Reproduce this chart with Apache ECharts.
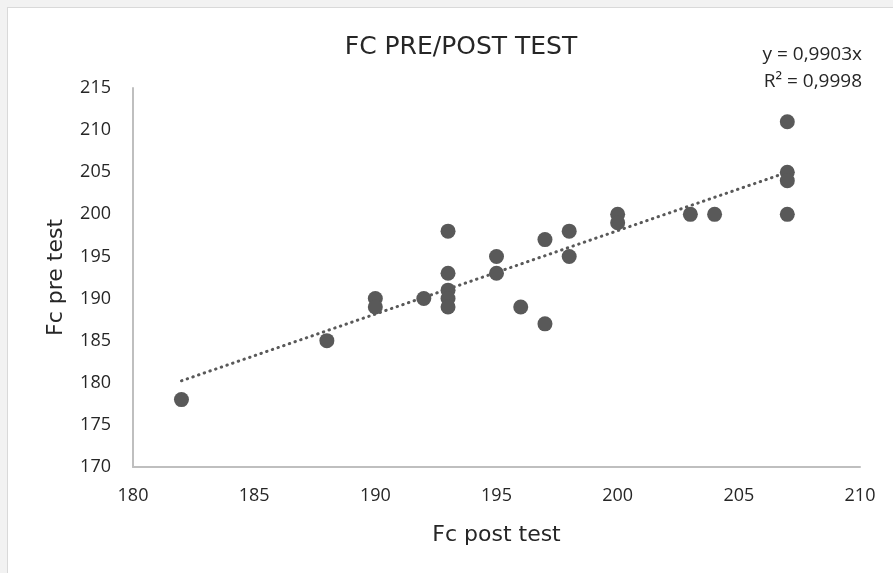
<!DOCTYPE html>
<html>
<head>
<meta charset="utf-8">
<script src="https://cdn.jsdelivr.net/npm/echarts@6/dist/echarts.min.js"></script>
<style>
html,body{margin:0;padding:0;background:#f2f2f2;}
#box{position:absolute;left:7px;top:7px;width:890px;height:570px;background:#fff;border:1px solid #d9d9d9;box-sizing:border-box;}
#c{position:absolute;left:0;top:0;width:893px;height:573px;}
</style>
</head>
<body>
<div id="box"></div>
<div id="c"></div>
<script>
const postTest = [182,188,190,190,192,193,193,193,193,193,195,195,196,197,197,198,198,200,200,203,204,207,207,207,207];
const preTest  = [178,185,190,189,190,198,193,191,190,189,195,193,189,197,187,198,195,200,199,200,200,211,205,204,200];
const slope = 0.9903;
const r2 = '0,9998';
const xTicks = [180,185,190,195,200,205,210];
const yTicks = [170,175,180,185,190,195,200,205,210,215];
const trendX = [182, 207];

const points = postTest.map((x,i)=>[x, preTest[i]]);
const trend = trendX.map(x=>[x, slope*x]);

const chart = echarts.init(document.getElementById('c'));
chart.setOption({
  backgroundColor:'transparent',
  animation:false,
  title:{text:'FC PRE/POST TEST',left:456,textAlign:'center',top:30,
    textStyle:{fontFamily:'DejaVu Sans',fontSize:25,fontWeight:'normal',color:'#262626'}},
  grid:{left:133,right:33,top:88,bottom:106},
  xAxis:{type:'value',min:xTicks[0],max:xTicks[xTicks.length-1],interval:5,
    name:'Fc post test',nameLocation:'middle',nameGap:57,
    nameTextStyle:{fontFamily:'DejaVu Sans',fontSize:22,color:'#262626'},
    axisLine:{lineStyle:{color:'#bfbfbf',width:2}},axisTick:{show:false},splitLine:{show:false},
    axisLabel:{fontFamily:'Open Sans',fontSize:18,color:'#262626',margin:20}},
  yAxis:{type:'value',min:yTicks[0],max:yTicks[yTicks.length-1],interval:5,
    name:'Fc pre test',nameLocation:'middle',nameGap:66,nameRotate:90,
    nameTextStyle:{fontFamily:'DejaVu Sans',fontSize:22,color:'#262626'},
    axisLine:{show:true,lineStyle:{color:'#bfbfbf',width:2}},axisTick:{show:false},splitLine:{show:false},
    axisLabel:{fontFamily:'Open Sans',fontSize:18,color:'#262626',margin:22}},
  series:[
    {type:'line',data:trend,symbol:'none',z:1,
      lineStyle:{color:'#595959',width:3,type:[0.5,5.5],cap:'round'}},
    {type:'scatter',data:points,symbolSize:15,z:2,itemStyle:{color:'#595959',opacity:1}}
  ],
  graphic:[
    {type:'text',right:31,top:45,style:{text:'y = '+String(slope).replace('.',',')+'x',fontFamily:'Open Sans',fontSize:19,fill:'#262626'}},
    {type:'text',right:31,top:72,style:{text:'R² = '+r2,fontFamily:'Open Sans',fontSize:19,fill:'#262626'}}
  ]
});
</script>
</body>
</html>
